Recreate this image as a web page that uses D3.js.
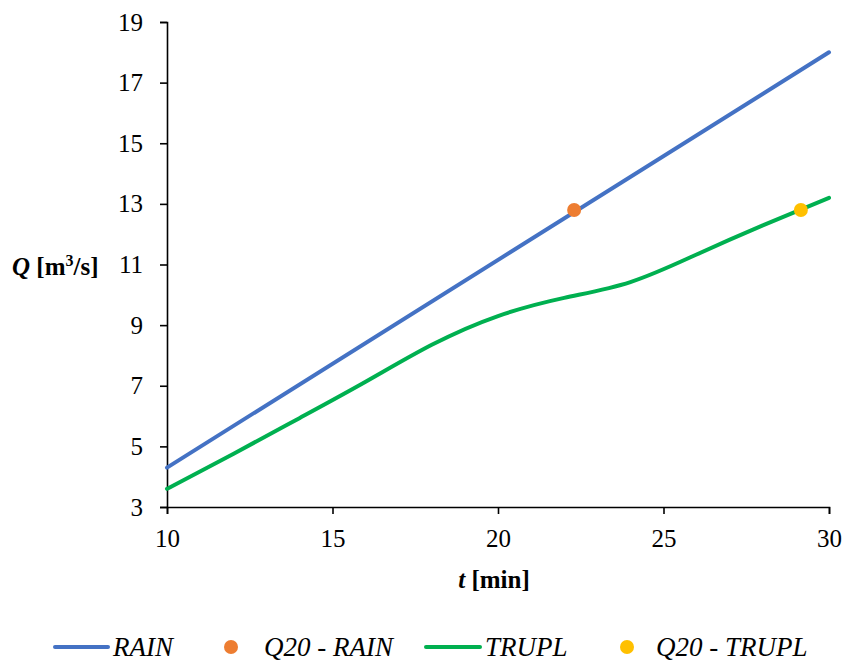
<!DOCTYPE html>
<html>
<head>
<meta charset="utf-8">
<script src="https://cdn.jsdelivr.net/npm/d3@7"></script>
<style>
  html, body { margin: 0; padding: 0; background: #fff; }
  svg text { font-family: "Liberation Serif", "Times New Roman", serif; fill: #000; }
</style>
</head>
<body>
<svg id="chart" width="848" height="664"></svg>
<script>
// Discharge Q [m3/s] versus duration t [min]
const rainT = [10, 30];
const rainQ = [4.3, 18.0];

const truplT = [10, 12, 14, 16, 18, 20, 22, 24, 26, 28, 30];
const truplQ = [3.6, 4.75, 5.93, 7.13, 8.35, 9.3, 9.9, 10.42, 11.33, 12.29, 13.2];

const q20Rain = [{ t: 22.3, q: 12.8 }];
const q20Trupl = [{ t: 29.15, q: 12.8 }];

const xTicks = [10, 15, 20, 25, 30];
const yTicks = [3, 5, 7, 9, 11, 13, 15, 17, 19];

const colors = { rain: "#4472C4", q20Rain: "#ED7D31", trupl: "#00B050", q20Trupl: "#FFC000" };

const svg = d3.select("#chart");
const margin = { left: 167, right: 19, top: 22, bottom: 157 };
const W = 848, H = 664;

const x = d3.scaleLinear().domain([10, 30]).range([margin.left, W - margin.right]);
const y = d3.scaleLinear().domain([3, 19]).range([H - margin.bottom, margin.top]);

// Axes
const xAxis = svg.append("g")
  .attr("transform", `translate(0,${y(3)})`)
  .call(d3.axisBottom(x).tickValues(xTicks).tickSize(7).tickPadding(15).tickFormat(d3.format("d")));
const yAxis = svg.append("g")
  .attr("transform", `translate(${x(10)},0)`)
  .call(d3.axisLeft(y).tickValues(yTicks).tickSize(7).tickPadding(17).tickFormat(d3.format("d")));

[xAxis, yAxis].forEach(g => {
  g.attr("font-family", null);
  g.select(".domain").attr("stroke", "#000").attr("stroke-width", 1.6);
  g.selectAll(".tick line").attr("stroke", "#000").attr("stroke-width", 1.6);
  g.selectAll(".tick text").attr("font-size", 25).attr("fill", "#000");
});

// Series lines
const line = d3.line().x(d => x(d[0])).y(d => y(d[1]));
const smoothLine = d3.line().x(d => x(d[0])).y(d => y(d[1])).curve(d3.curveNatural);

svg.append("path")
  .datum(rainT.map((t, i) => [t, rainQ[i]]))
  .attr("d", line)
  .attr("fill", "none")
  .attr("stroke", colors.rain)
  .attr("stroke-width", 4)
  .attr("stroke-linecap", "round");

svg.append("path")
  .datum(truplT.map((t, i) => [t, truplQ[i]]))
  .attr("d", smoothLine)
  .attr("fill", "none")
  .attr("stroke", colors.trupl)
  .attr("stroke-width", 4)
  .attr("stroke-linecap", "round");

// Q20 markers
svg.selectAll(".q20rain").data(q20Rain).join("circle")
  .attr("cx", d => x(d.t)).attr("cy", d => y(d.q)).attr("r", 7)
  .attr("fill", colors.q20Rain);
svg.selectAll(".q20trupl").data(q20Trupl).join("circle")
  .attr("cx", d => x(d.t)).attr("cy", d => y(d.q)).attr("r", 7)
  .attr("fill", colors.q20Trupl);

// Axis titles
const xTitle = svg.append("text")
  .attr("x", 494).attr("y", 588)
  .attr("text-anchor", "middle").attr("font-size", 25).attr("font-weight", "bold");
xTitle.append("tspan").attr("font-style", "italic").text("t");
xTitle.append("tspan").text(" [min]");

const yTitle = svg.append("text")
  .attr("x", 12).attr("y", 275)
  .attr("font-size", 25).attr("font-weight", "bold");
yTitle.append("tspan").attr("font-style", "italic").text("Q");
yTitle.append("tspan").text(" [m");
yTitle.append("tspan").attr("font-size", 16).attr("dy", -9).text("3");
yTitle.append("tspan").attr("dy", 9).text("/s]");

// Legend
const legendY = 647;
const legend = [
  { type: "line", color: colors.rain, label: "RAIN", x0: 55, x1: 108, tx: 113 },
  { type: "dot", color: colors.q20Rain, label: "Q20 - RAIN", cx: 231, tx: 264 },
  { type: "line", color: colors.trupl, label: "TRUPL", x0: 426, x1: 480, tx: 485 },
  { type: "dot", color: colors.q20Trupl, label: "Q20 - TRUPL", cx: 627, tx: 656 }
];
const lg = svg.append("g");
legend.forEach(item => {
  if (item.type === "line") {
    lg.append("line").attr("x1", item.x0).attr("x2", item.x1)
      .attr("y1", legendY).attr("y2", legendY)
      .attr("stroke", item.color).attr("stroke-width", 4).attr("stroke-linecap", "round");
  } else {
    lg.append("circle").attr("cx", item.cx).attr("cy", legendY).attr("r", 7).attr("fill", item.color);
  }
  lg.append("text").attr("x", item.tx).attr("y", legendY + 8.5)
    .attr("font-size", 27).attr("font-style", "italic").text(item.label);
});
</script>
</body>
</html>
